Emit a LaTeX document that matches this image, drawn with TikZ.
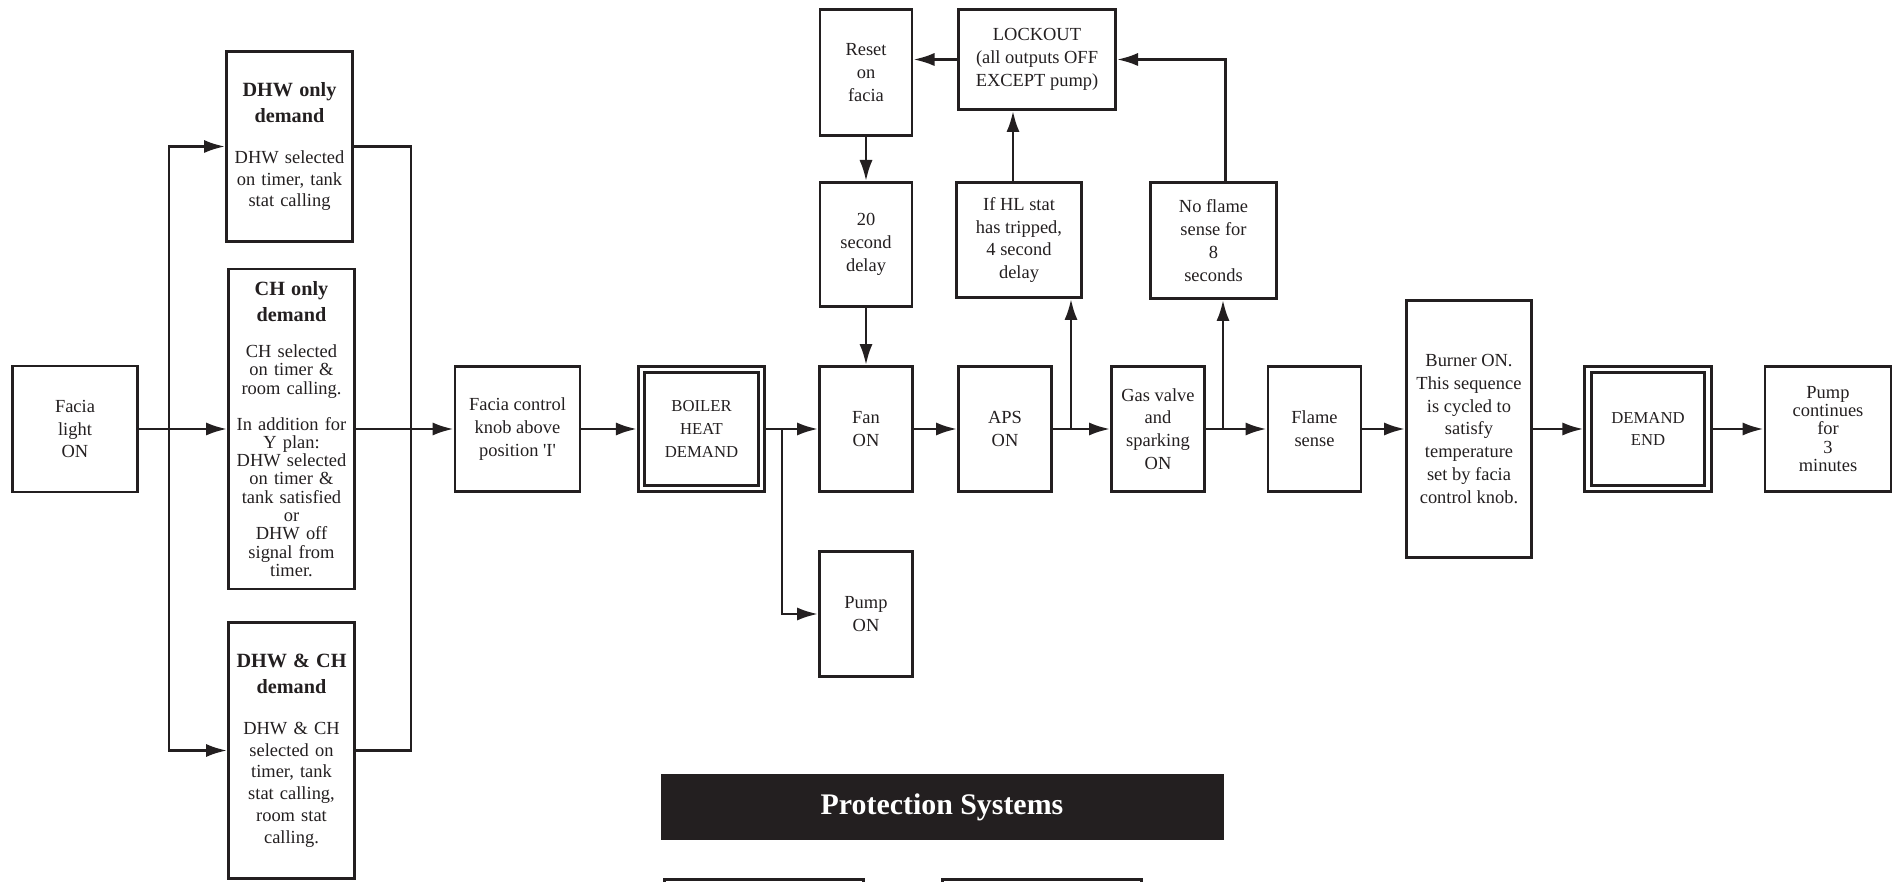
\documentclass[tikz,border=0pt]{standalone}
\usepackage{fontspec}
\setmainfont{Liberation Serif}
\usetikzlibrary{arrows.meta}
\definecolor{ink}{HTML}{231F20}
\newcommand{\hdfont}{\fontsize{11.5pt}{15pt}\selectfont\bfseries}
\begin{document}
\begin{tikzpicture}[x=0.2mm, y=-0.2mm, line width=1.6pt, color=ink,
  box/.style={draw=ink, align=center, inner sep=2pt, font=\fontsize{10.5pt}{13pt}\selectfont},
  dblbox/.style={box, double, double distance=2pt, outer sep=2.6pt},
  demandbox/.style={box, text width=2.5cm, inner sep=0pt},
  arr/.style={-{Latex[length=12pt,width=7.5pt]}}]
\useasboundingbox (0,0) rectangle (1897,882);
% demand inputs
\node[box, minimum width=2.5cm, minimum height=2.52cm] (light) at (75,429) {Facia\\light\\ON};
\node[demandbox, minimum width=2.52cm, minimum height=3.8cm, font=\fontsize{10.5pt}{12.4pt}\selectfont] (dhwonly) at (289.5,146.5) {{\hdfont DHW only\\demand\par}\vspace{10.8pt}DHW selected\\on timer, tank\\stat calling};
\node[demandbox, minimum width=2.52cm, minimum height=6.4cm, font=\fontsize{10.5pt}{10.4pt}\selectfont] (chonly) at (291.5,429) {{\hdfont CH only\\demand\par}\vspace{10pt}CH selected\\on timer \&\\room calling.\\[10pt]In addition for\\Y plan:\\DHW selected\\on timer \&\\tank satisfied\\or\\DHW off\\signal from\\timer.};
\node[demandbox, minimum width=2.52cm, minimum height=5.12cm, font=\fontsize{10.5pt}{12.4pt}\selectfont] (dhwch) at (291.5,750.5) {{\hdfont DHW \& CH\\demand\par}\vspace{10.8pt}DHW \& CH\\selected on\\timer, tank\\stat calling,\\room stat\\calling.};
\coordinate (busL) at (169,429);
\coordinate (busR) at (411,429);
\draw[arr] (light) -- (chonly);
\draw[arr] (busL) |- (dhwonly);
\draw[arr] (busL) |- (dhwch);
\draw (dhwonly) -| (busR);
\draw (dhwch) -| (busR);
% main sequence
\node[box, minimum width=2.5cm, minimum height=2.5cm] (knob) at (517.5,429) {Facia control\\knob above\\position \textquotesingle I\textquotesingle};
\node[dblbox, minimum width=2.4cm, minimum height=2.38cm, font=\fontsize{9.5pt}{13pt}\selectfont] (boiler) at (701.5,429) {BOILER\\HEAT\\DEMAND};
\node[box, minimum width=1.86cm, minimum height=2.5cm] (fan) at (866,429) {Fan\\ON};
\node[box, minimum width=1.86cm, minimum height=2.5cm] (pump) at (866,614) {Pump\\ON};
\node[box, minimum width=1.86cm, minimum height=2.5cm] (aps) at (1005,429) {APS\\ON};
\node[box, minimum width=1.86cm, minimum height=2.5cm] (gas) at (1158,429) {Gas valve\\and\\sparking\\ON};
\node[box, minimum width=1.86cm, minimum height=2.5cm] (flame) at (1314.5,429) {Flame\\sense};
\node[box, minimum width=2.5cm, minimum height=5.14cm] (burner) at (1469,429) {Burner ON.\\This sequence\\is cycled to\\satisfy\\temperature\\set by facia\\control knob.};
\node[dblbox, minimum width=2.4cm, minimum height=2.38cm, font=\fontsize{9.5pt}{13pt}\selectfont] (dmdend) at (1648,429) {DEMAND\\END};
\node[box, minimum width=2.52cm, minimum height=2.5cm, font=\fontsize{10.5pt}{10.4pt}\selectfont] (pumprun) at (1828,429) {Pump\\continues\\for\\3\\minutes};
% lockout loop
\node[box, minimum width=1.84cm, minimum height=2.52cm] (reset) at (866,72.5) {Reset\\on\\facia};
\node[box, minimum width=1.84cm, minimum height=2.48cm] (delay) at (866,244.5) {20\\second\\delay};
\node[box, minimum width=3.14cm, minimum height=2cm] (lockout) at (1037,59.5) {LOCKOUT\\(all outputs OFF\\EXCEPT pump)};
\node[box, minimum width=2.5cm, minimum height=2.3cm] (hlstat) at (1019,240) {If HL stat\\has tripped,\\4 second\\delay};
\node[box, minimum width=2.52cm, minimum height=2.32cm] (noflame) at (1213.5,240.5) {No flame\\sense for\\8\\seconds};
\coordinate (brfan) at (782,429);
\coordinate (braps) at (1071,429);
\coordinate (brgas) at (1223,429);
\draw[arr] (chonly) -- (knob);
\draw[arr] (knob) -- (boiler);
\draw[arr] (boiler) -- (fan);
\draw[arr] (brfan) |- (pump);
\draw[arr] (fan) -- (aps);
\draw[arr] (aps) -- (gas);
\draw[arr] (gas) -- (flame);
\draw[arr] (flame) -- (burner);
\draw[arr] (burner) -- (dmdend);
\draw[arr] (dmdend) -- (pumprun);
\draw[arr] (braps) -- (braps |- hlstat.south);
\draw[arr] (brgas) -- (brgas |- noflame.south);
\draw[arr] ([xshift=-1.2mm]hlstat.north) -- ([xshift=-1.2mm]hlstat.north |- lockout.south);
\draw[arr] ([xshift=2.4mm]noflame.north) |- (lockout);
\draw[arr] (lockout) -- (lockout.west -| reset.east);
\draw[arr] (reset) -- (delay);
\draw[arr] (delay) -- (fan);
% protection systems
\node[fill=ink, text=white, minimum width=11.26cm, minimum height=1.32cm, font=\fontsize{17pt}{20pt}\selectfont\bfseries] (banner) at (942,807) {Protection Systems};
\node[box, minimum width=3.98cm, minimum height=2cm, anchor=north] (prot1) at (764,878) {};
\node[box, minimum width=3.98cm, minimum height=2cm, anchor=north] (prot2) at (1042,878) {};
\end{tikzpicture}
\end{document}
